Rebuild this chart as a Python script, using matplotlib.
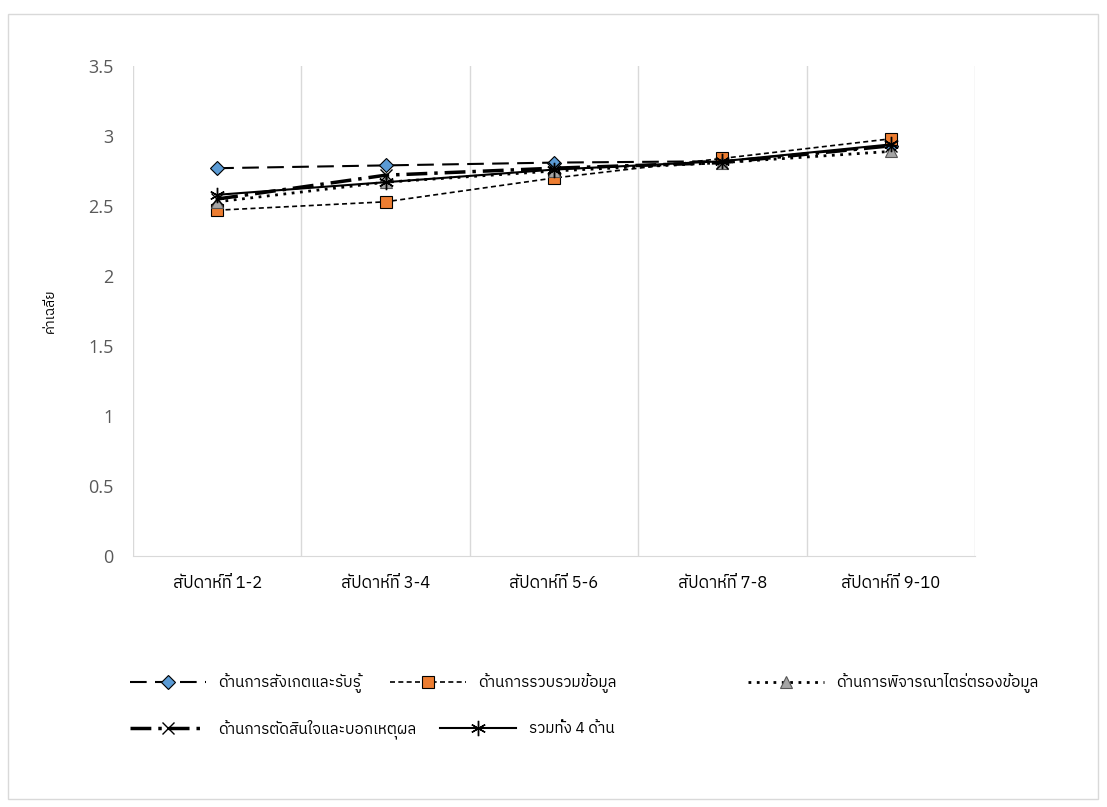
import matplotlib
matplotlib.use('Agg')
import matplotlib.pyplot as plt
from matplotlib.patches import Rectangle
from matplotlib import font_manager

thai = [f.name for f in font_manager.fontManager.ttflist
        if 'thai' in f.name.lower() or f.name in ('Loma', 'Garuda', 'Norasi', 'Sarabun', 'Kinnari', 'Waree')]
plt.rcParams['font.family'] = sorted(set(thai)) + ['DejaVu Sans']

weeks = ['สัปดาห์ที่ 1-2', 'สัปดาห์ที่ 3-4', 'สัปดาห์ที่ 5-6', 'สัปดาห์ที่ 7-8', 'สัปดาห์ที่ 9-10']
observe = [2.77, 2.79, 2.81, 2.82, 2.93]
collect = [2.47, 2.53, 2.70, 2.84, 2.98]
consider = [2.53, 2.67, 2.75, 2.81, 2.89]
decide = [2.55, 2.72, 2.77, 2.81, 2.93]
total = [2.58, 2.67, 2.76, 2.82, 2.94]
names = ['ด้านการสังเกตและรับรู้', 'ด้านการรวบรวมข้อมูล', 'ด้านการพิจารณาไตร่ตรองข้อมูล',
         'ด้านการตัดสินใจและบอกเหตุผล', 'รวมทั้ง 4 ด้าน']
yticks = [0, 0.5, 1, 1.5, 2, 2.5, 3, 3.5]

fig = plt.figure(figsize=(11.07, 8.07), dpi=100)
ax = fig.add_axes([133/1107, 1 - 556/807, (975-133)/1107, (556-66)/807])

x = range(len(weeks))
h = []
h += ax.plot(x, observe, color='black', lw=1.5, dashes=(8, 4), marker='D', ms=7,
             mfc='#5b9bd5', mec='black', mew=0.8)
h += ax.plot(x, collect, color='black', lw=1.2, dashes=(3, 2), marker='s', ms=9,
             mfc='#ed7d31', mec='black', mew=0.8)
h += ax.plot(x, consider, color='black', lw=2, ls=(0, (1, 2)), marker='^', ms=8,
             mfc='#a5a5a5', mec='#555555', mew=0.8)
h += ax.plot(x, decide, color='black', lw=2.5, dashes=(6, 2, 1, 2), marker='x', ms=8,
             mec='black', mew=1)
h += ax.plot(x, total, color='black', lw=1.5, marker=(6, 2, 0), ms=11,
             mec='black', mew=1)

ax.set_xlim(-0.5, 4.5)
ax.set_ylim(0, 3.5)
ax.set_yticks(yticks)
ax.set_yticklabels([f'{v:g}' for v in yticks], family='Open Sans', fontsize=13, color='#595959')
ax.set_xticks(list(x))
ax.set_xticklabels(weeks, fontsize=12)
ax.tick_params(axis='y', length=0, pad=14)
ax.tick_params(axis='x', length=0, pad=14)
for b in [-0.5, 0.5, 1.5, 2.5, 3.5, 4.5]:
    ax.axvline(b, color='#d9d9d9', lw=1, zorder=0)
for s in ['top', 'right', 'left']:
    ax.spines[s].set_visible(False)
ax.spines['bottom'].set_color('#d9d9d9')
ax.set_ylabel('ค่าเฉลี่ย', fontsize=10)
ax.yaxis.set_label_coords(-0.09, 0.5)

# one small legend per entry, laid out in rows like the reference
spots = [(130, 683), (390, 683), (748, 683), (130, 729), (440, 729)]
for i, (px, py) in enumerate(spots):
    fig.legend([h[i]], [names[i]], loc='center left',
               bbox_to_anchor=(px/1107, 1 - py/807), frameon=False, fontsize=11,
               handlelength=5, handletextpad=0.8, borderpad=0, borderaxespad=0)

fig.patches.append(Rectangle((8/1107, 8/807), 1090/1107, 785/807, transform=fig.transFigure,
                             fill=False, edgecolor='#d9d9d9', lw=1))

fig.savefig('out.png', dpi=100)
